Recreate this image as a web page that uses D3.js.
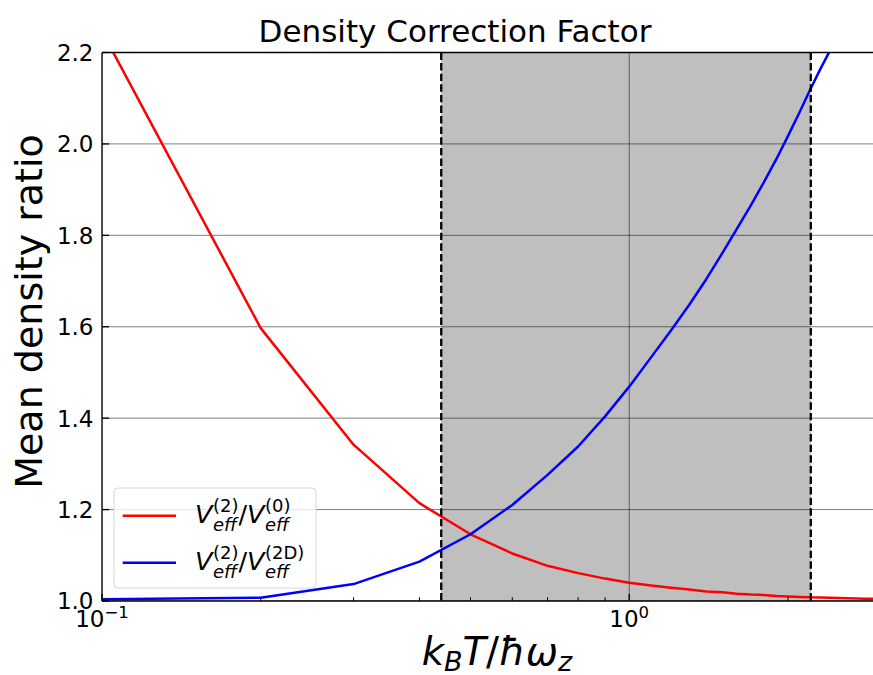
<!DOCTYPE html>
<html>
<head>
<meta charset="utf-8">
<script src="https://cdn.jsdelivr.net/npm/d3@7"></script>
<style>
  html, body { margin: 0; padding: 0; background: #fff; }
  svg { display: block; font-family: "DejaVu Sans", sans-serif; }
</style>
</head>
<body>
<svg id="chart" width="873" height="675"></svg>
<script>
// ---- data ----
const xVals = [0.1, 0.2, 0.3, 0.4, 0.5, 0.6, 0.7, 0.8, 0.9, 1.0,
               1.1, 1.2, 1.3, 1.4, 1.5, 1.6, 1.7, 1.8, 1.9, 2.0,
               2.1, 2.2, 2.3, 2.4, 2.5, 2.6, 2.7, 2.8, 2.9, 3.0];
const ratio0 = [2.246, 1.597, 1.342, 1.214, 1.146, 1.104, 1.077, 1.061, 1.049, 1.040,
                1.034, 1.029, 1.025, 1.021, 1.019, 1.016, 1.014, 1.013, 1.011, 1.010,
                1.009, 1.008, 1.0076, 1.007, 1.0065, 1.006, 1.0055, 1.005, 1.0048, 1.0045];
const ratio2D = [1.004, 1.007, 1.037, 1.086, 1.146, 1.210, 1.276, 1.338, 1.404, 1.469,
                 1.533, 1.592, 1.648, 1.704, 1.760, 1.814, 1.865, 1.916, 1.966, 2.017,
                 2.067, 2.117, 2.162, 2.203, 2.245, 2.285, 2.325, 2.365, 2.400, 2.440];
const yTicks = [1.0, 1.2, 1.4, 1.6, 1.8, 2.0, 2.2];
const xMajorTicks = [0.1, 1];
const xMajorLabels = [["10", "\u22121"], ["10", "0"]];
const xMinorTicks = [0.2, 0.3, 0.4, 0.5, 0.6, 0.7, 0.8, 0.9, 2, 3];
const bandEdges = [0.44, 2.21];
const xDomain = [0.1, 2.9];
const yDomain = [1.0, 2.2];
const titleText = "Density Correction Factor";
const yLabelText = "Mean density ratio";
const seriesColors = ["#ff0000", "#0000ff"];

// ---- layout ----
const L = 102, R = 873, T = 52.5, B = 601;
const svg = d3.select("#chart");
const x = d3.scaleLog().domain(xDomain).range([L, R]);
const y = d3.scaleLinear().domain(yDomain).range([B, T]);

svg.append("defs").append("clipPath").attr("id", "plotclip")
  .append("rect").attr("x", L).attr("y", T).attr("width", R - L).attr("height", B - T);

const plot = svg.append("g").attr("clip-path", "url(#plotclip)");

// shaded band
plot.append("rect")
  .attr("x", x(bandEdges[0])).attr("y", T)
  .attr("width", x(bandEdges[1]) - x(bandEdges[0])).attr("height", B - T)
  .attr("fill", "#bfbfbf");

// grid
plot.selectAll("line.hgrid").data(yTicks).enter().append("line")
  .attr("x1", L).attr("x2", R).attr("y1", d => y(d)).attr("y2", d => y(d))
  .attr("stroke", "#000").attr("stroke-opacity", 0.5).attr("stroke-width", 1);
plot.selectAll("line.vgrid").data(xMajorTicks).enter().append("line")
  .attr("x1", d => x(d)).attr("x2", d => x(d)).attr("y1", T).attr("y2", B)
  .attr("stroke", "#000").attr("stroke-opacity", 0.5).attr("stroke-width", 1);

// series
const line = d3.line().x(d => x(d[0])).y(d => y(d[1]));
[ratio0, ratio2D].forEach((vals, i) => {
  plot.append("path")
    .datum(xVals.map((xv, j) => [xv, vals[j]]))
    .attr("d", line)
    .attr("fill", "none")
    .attr("stroke", seriesColors[i])
    .attr("stroke-width", 2.5)
    .attr("stroke-linejoin", "round");
});

// dashed band edges
plot.selectAll("line.edge").data(bandEdges).enter().append("line")
  .attr("x1", d => x(d)).attr("x2", d => x(d)).attr("y1", T).attr("y2", B)
  .attr("stroke", "#000").attr("stroke-width", 2.3)
  .attr("stroke-dasharray", "7.4,3.2");

// spines
const sp = svg.append("g").attr("stroke", "#000").attr("stroke-width", 1.3);
sp.append("line").attr("x1", L).attr("x2", L).attr("y1", T).attr("y2", B);
sp.append("line").attr("x1", L).attr("x2", R).attr("y1", B).attr("y2", B);
sp.append("line").attr("x1", L).attr("x2", R).attr("y1", T).attr("y2", T);

// y ticks (inward)
const ax = svg.append("g");
ax.selectAll("line.yt").data(yTicks).enter().append("line")
  .attr("x1", L).attr("x2", L + 7).attr("y1", d => y(d)).attr("y2", d => y(d))
  .attr("stroke", "#000").attr("stroke-width", 1.3);
ax.selectAll("text.yl").data(yTicks).enter().append("text")
  .attr("x", L - 8.5).attr("y", d => y(d) + 8.4)
  .attr("text-anchor", "end").attr("font-size", 23).attr("fill", "#000")
  .text(d => d3.format(".1f")(d));

// x ticks
ax.selectAll("line.xt").data(xMajorTicks).enter().append("line")
  .attr("x1", d => x(d)).attr("x2", d => x(d)).attr("y1", B).attr("y2", B - 7)
  .attr("stroke", "#000").attr("stroke-width", 1.3);
ax.selectAll("line.xm").data(xMinorTicks.filter(d => d <= xDomain[1])).enter().append("line")
  .attr("x1", d => x(d)).attr("x2", d => x(d)).attr("y1", B).attr("y2", B - 3.8)
  .attr("stroke", "#000").attr("stroke-width", 1);
xMajorTicks.forEach((t, i) => {
  const tx = ax.append("text").attr("x", x(t)).attr("y", 626.5)
    .attr("text-anchor", "middle").attr("font-size", 23).attr("fill", "#000");
  tx.append("tspan").text(xMajorLabels[i][0]);
  tx.append("tspan").attr("dy", -8.5).attr("font-size", 16.5).text(xMajorLabels[i][1]);
});

// title
svg.append("text").attr("x", 455).attr("y", 41.5).attr("text-anchor", "middle")
  .attr("font-size", 31).attr("fill", "#000").text(titleText);

// y label
svg.append("text").attr("transform", "translate(42,311.5) rotate(-90)")
  .attr("text-anchor", "middle").attr("font-size", 38).attr("fill", "#000").text(yLabelText);

// x label (math style)
const xl = svg.append("text").attr("x", 497).attr("y", 665).attr("text-anchor", "middle")
  .attr("font-size", 38.5).attr("fill", "#000").attr("font-style", "italic");
xl.append("tspan").text("k");
xl.append("tspan").attr("font-size", 27).attr("dy", 5.5).text("B");
xl.append("tspan").attr("dy", -5.5).text("T");
xl.append("tspan").attr("font-style", "normal").text("/");
xl.append("tspan").text("\u0127\u03c9");
xl.append("tspan").attr("font-size", 27).attr("dy", 5.5).text("z");

// legend
const lg = svg.append("g");
lg.append("rect").attr("x", 114).attr("y", 488).attr("width", 202).attr("height", 100)
  .attr("rx", 4).attr("fill", "#fff").attr("fill-opacity", 0.8)
  .attr("stroke", "#d6d6d6").attr("stroke-width", 1);

function mathV(g, x0, base, sup) {
  const v = g.append("text").attr("x", x0).attr("y", base).attr("font-size", 25.5)
    .attr("font-style", "italic").attr("fill", "#000").text("V");
  const w = v.node().getComputedTextLength();
  const xs = x0 + w + 0.5;
  const s1 = g.append("text").attr("x", xs).attr("y", base - 11.5).attr("font-size", 18)
    .attr("fill", "#000").text(sup);
  const s2 = g.append("text").attr("x", xs).attr("y", base + 8).attr("font-size", 18)
    .attr("font-style", "italic").attr("fill", "#000").text("eff");
  return xs + Math.max(s1.node().getComputedTextLength(), s2.node().getComputedTextLength());
}
const legendItems = [["(2)", "(0)"], ["(2)", "(2D)"]];
const legendRows = [515.7, 562.7];
legendItems.forEach((it, i) => {
  const ly = legendRows[i];
  lg.append("line").attr("x1", 122.7).attr("x2", 176).attr("y1", ly).attr("y2", ly)
    .attr("stroke", seriesColors[i]).attr("stroke-width", 2.5);
  const base = ly + 7.5;
  let cx = mathV(lg, 195, base, it[0]);
  const sl = lg.append("text").attr("x", cx).attr("y", base).attr("font-size", 25.5)
    .attr("fill", "#000").text("/");
  cx += sl.node().getComputedTextLength();
  mathV(lg, cx, base, it[1]);
});
</script>
</body>
</html>
